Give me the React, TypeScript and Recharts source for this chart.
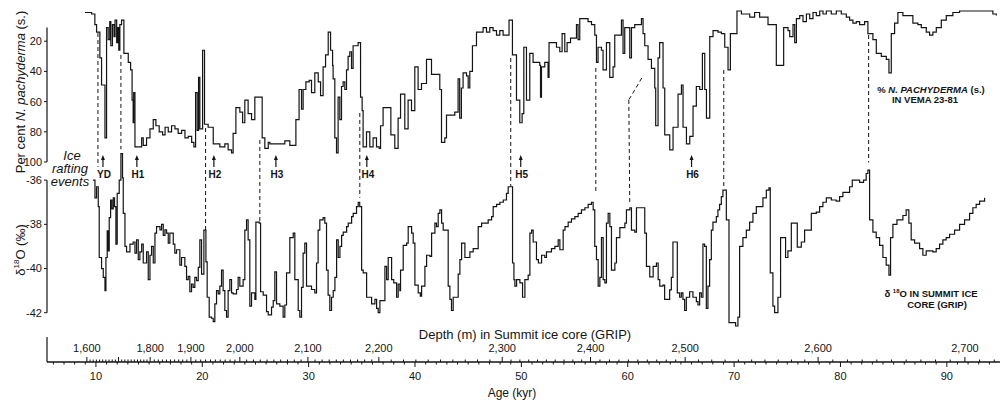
import { ComposedChart, Line, XAxis, YAxis, ReferenceLine, ReferenceDot } from "recharts"

// % N. pachyderma (s.) in VEMA 23-81: [age kyr, percent]
const pachyderma: [number, number][] = [
  [8.97, 1], [9.6, 2], [9.9, 9], [10.06, 14], [10.37, 31], [10.53, 49], [10.85, 84], [11.0, 11],
  [11.15, 19], [11.3, 7], [11.4, 23], [11.55, 9], [11.7, 17], [11.8, 6], [11.95, 21], [12.05, 11],
  [12.15, 26], [12.25, 9], [12.41, 6], [12.63, 28], [13.04, 34], [13.26, 39], [13.4, 59], [13.5, 74],
  [13.55, 54], [13.67, 90], [14.3, 84], [14.45, 89], [14.76, 84], [15.08, 78], [15.39, 72], [15.64, 76],
  [15.95, 80], [16.27, 82], [16.5, 77], [16.8, 80], [17.11, 76], [17.43, 78], [17.73, 81], [18.06, 79],
  [18.37, 84], [18.68, 83], [19.0, 87], [19.21, 90], [19.37, 54], [19.52, 79], [19.65, 44], [19.77, 78],
  [20.03, 26], [20.21, 75], [20.55, 77], [21.03, 88], [21.65, 90], [22.12, 88], [22.43, 92], [22.75, 94],
  [22.9, 81], [23.16, 64], [23.53, 67], [23.79, 74], [24.0, 59], [24.31, 68], [24.63, 72], [24.94, 57],
  [25.63, 84], [25.88, 91], [26.2, 87], [26.35, 88], [27.76, 86], [28.23, 89], [28.8, 72], [29.1, 52],
  [29.33, 65], [29.48, 52], [29.74, 47], [30.05, 46], [30.27, 54], [30.58, 41], [30.9, 47], [31.12, 56],
  [31.36, 37], [31.59, 29], [31.84, 14], [32.06, 26], [32.25, 36], [32.3, 45], [32.46, 84], [32.62, 94],
  [32.77, 57], [32.93, 72], [33.09, 50], [33.24, 47], [33.4, 52], [33.56, 39], [33.71, 30], [33.87, 27],
  [34.03, 38], [34.18, 23], [34.65, 21], [34.88, 57], [35.03, 66], [35.12, 90], [35.44, 80], [35.75, 90],
  [36.06, 84], [36.38, 90], [36.63, 91], [36.76, 76], [37.0, 64], [37.73, 82], [38.1, 91], [38.41, 71],
  [38.64, 55], [39.04, 78], [39.35, 59], [39.67, 66], [39.98, 37], [40.29, 52], [40.61, 48], [41.08, 32],
  [41.55, 42], [42.33, 52], [42.49, 87], [42.8, 84], [42.96, 69], [43.74, 67], [44.05, 45], [44.2, 71],
  [44.36, 51], [44.52, 41], [44.84, 43], [45.0, 51], [45.15, 40], [45.4, 23], [45.78, 14], [46.4, 11],
  [46.72, 14], [47.03, 11], [47.34, 13], [47.66, 16], [47.97, 13], [48.28, 16], [48.84, 6], [49.16, 29],
  [49.54, 59], [49.85, 74], [50.07, 68], [50.23, 24], [50.48, 59], [50.79, 28], [51.1, 34], [51.73, 36],
  [51.8, 57], [51.89, 37], [52.2, 34], [52.51, 44], [52.6, 21], [53.3, 24], [53.61, 27], [53.83, 15],
  [54.08, 27], [54.3, 21], [54.62, 18], [55.18, 9], [55.33, 19], [55.49, 5], [56.27, 7], [56.59, 9],
  [56.9, 16], [57.06, 34], [57.21, 24], [57.53, 26], [57.68, 39], [58.0, 21], [58.31, 44], [58.62, 37],
  [58.78, 16], [59.41, 6], [59.56, 28], [59.72, 11], [60.19, 31], [60.35, 11], [60.66, 9], [61.29, 5],
  [61.44, 15], [61.6, 23], [61.91, 32], [62.23, 38], [62.54, 51], [62.63, 76], [62.85, 31], [63.0, 21],
  [63.32, 51], [63.48, 82], [63.95, 92], [64.26, 77], [64.73, 55], [65.05, 49], [65.2, 77], [65.52, 88],
  [65.83, 83], [66.14, 63], [66.45, 50], [66.77, 52], [67.02, 28], [67.24, 52], [67.4, 71], [67.71, 17],
  [68.02, 13], [68.49, 14], [68.81, 15], [69.12, 24], [69.43, 39], [69.65, 15], [70.27, 0], [70.69, 2],
  [71.47, 4], [71.93, 1], [72.4, 4], [73.19, 9], [73.97, 36], [74.66, 11], [75.07, 13], [75.23, 17],
  [75.54, 9], [75.7, 21], [75.86, 5], [76.17, 3], [76.48, 7], [76.8, 2], [77.11, 5], [77.42, 1],
  [77.73, 3], [78.05, 0], [78.36, 2], [78.67, 0], [79.14, 2], [79.61, 0], [80.08, 2], [80.55, 4],
  [80.86, 6], [81.17, 8], [81.49, 7], [81.8, 9], [82.27, 7], [82.58, 15], [83.05, 19], [83.37, 28],
  [83.84, 30], [84.31, 32], [84.56, 41], [84.78, 15], [85.09, 8], [85.4, 1], [85.87, 3], [86.81, 8],
  [87.28, 9], [87.6, 11], [88.07, 14], [88.38, 16], [88.69, 14], [89.01, 11], [89.48, 6], [89.95, 3],
  [90.57, 1], [91.2, 0], [91.83, 0], [93.71, 0], [94.33, 2], [94.65, 3],
]

// delta 18O in Summit ice core (GRIP): [age kyr, permil]
const d18o: [number, number][] = [
  [9.72, -36.0], [9.91, -36.8], [10.06, -36.3], [10.22, -37.2], [10.31, -39.5], [10.53, -40.0],
  [10.69, -40.4], [10.85, -41.0], [10.94, -39.5], [11.06, -38.3], [11.16, -39.2], [11.25, -37.7],
  [11.38, -36.9], [11.5, -37.3], [11.63, -36.8], [11.75, -37.2], [11.88, -38.9], [12.0, -36.6],
  [12.19, -36.0], [12.35, -34.8], [12.5, -35.9], [12.57, -37.5], [12.73, -39.0], [12.88, -39.25],
  [13.2, -38.9], [13.5, -38.8], [13.67, -39.3], [13.82, -38.7], [13.98, -39.6], [14.13, -39.25],
  [14.3, -38.9], [14.45, -39.75], [14.76, -39.25], [14.92, -40.5], [15.08, -39.4], [15.23, -39.0],
  [15.39, -39.75], [15.55, -38.4], [15.7, -38.1], [16.02, -38.25], [16.17, -38.0], [16.33, -38.5],
  [16.49, -38.25], [16.64, -38.4], [16.8, -38.85], [16.95, -38.4], [17.27, -38.9], [17.42, -39.3],
  [17.58, -39.15], [17.89, -39.85], [18.05, -39.5], [18.36, -39.9], [18.52, -40.5], [18.68, -40.35],
  [18.83, -41.05], [18.99, -40.7], [19.14, -40.85], [19.3, -40.4], [19.46, -40.55], [19.62, -39.95],
  [19.77, -38.7], [19.93, -40.25], [20.15, -38.26], [20.34, -39.7], [20.46, -41.3], [20.65, -42.2],
  [20.87, -42.25], [21.03, -42.4], [21.18, -41.6], [21.34, -41.0], [21.5, -41.15], [21.65, -40.8],
  [21.81, -40.07], [21.96, -41.0], [22.12, -41.9], [22.28, -42.2], [22.43, -41.0], [22.59, -40.5],
  [22.75, -41.1], [22.9, -41.15], [23.22, -40.95], [23.37, -40.4], [23.53, -40.8], [23.84, -40.5],
  [24.0, -38.26], [24.16, -37.8], [24.31, -38.7], [24.47, -41.7], [24.63, -41.1], [24.94, -41.4],
  [25.04, -37.9], [25.35, -37.95], [25.48, -41.05], [25.73, -41.2], [26.04, -41.95], [26.2, -42.1],
  [26.51, -41.75], [26.67, -41.45], [26.82, -40.15], [26.98, -41.6], [27.29, -41.7], [27.6, -42.2],
  [27.76, -41.65], [27.92, -40.2], [28.23, -38.6], [28.55, -38.4], [28.7, -40.5], [29.02, -41.9],
  [29.17, -42.2], [29.33, -40.85], [29.48, -39.3], [29.64, -38.85], [29.8, -40.8], [30.27, -40.95],
  [30.58, -41.1], [30.74, -39.75], [30.89, -38.26], [31.05, -37.8], [31.36, -37.7], [31.52, -37.95],
  [31.68, -40.07], [31.83, -41.2], [31.99, -41.9], [32.15, -41.3], [32.31, -41.0], [32.47, -40.4],
  [32.63, -38.7], [32.78, -39.5], [32.94, -39.0], [33.1, -38.5], [33.25, -38.35], [33.57, -38.1],
  [33.72, -37.95], [34.04, -37.65], [34.19, -37.5], [34.5, -37.2], [34.66, -37.0], [34.8, -37.2],
  [34.98, -40.07], [35.13, -40.2], [35.45, -41.3], [35.92, -41.6], [36.23, -41.4], [36.39, -41.8],
  [36.54, -42.0], [36.7, -41.45], [37.17, -39.9], [37.33, -40.5], [37.48, -39.5], [37.8, -40.5],
  [38.0, -40.65], [38.27, -41.3], [38.42, -40.7], [38.58, -41.0], [38.64, -40.07], [38.89, -38.95],
  [39.21, -38.85], [39.36, -38.1], [39.68, -38.4], [39.83, -38.85], [39.99, -40.75], [40.3, -41.1],
  [40.5, -41.25], [40.62, -40.8], [40.93, -39.9], [41.09, -39.4], [41.4, -39.45], [41.56, -38.4],
  [41.87, -37.95], [42.02, -38.1], [42.18, -37.5], [42.34, -37.35], [42.5, -37.95], [42.65, -38.26],
  [43.12, -40.8], [43.28, -41.4], [43.43, -41.9], [43.59, -41.3], [44.06, -40.25], [44.22, -39.6],
  [44.38, -38.85], [44.69, -39.5], [45.16, -39.25], [45.47, -39.1], [45.94, -38.1], [46.26, -37.95],
  [46.88, -37.8], [47.2, -37.65], [47.35, -37.2], [47.67, -37.1], [47.98, -37.0], [48.3, -36.9],
  [48.6, -36.6], [48.76, -36.3], [49.17, -39.75], [49.3, -40.5], [49.39, -40.8], [49.55, -40.5],
  [49.86, -40.65], [50.11, -41.3], [50.33, -40.5], [50.64, -40.3], [50.8, -38.4], [50.96, -38.26],
  [51.11, -38.8], [51.42, -39.6], [51.6, -39.75], [51.9, -39.4], [52.2, -39.5], [52.36, -39.25],
  [52.83, -39.1], [53.15, -39.0], [53.46, -38.7], [53.62, -39.15], [53.93, -38.26], [54.1, -38.1],
  [54.4, -37.9], [54.71, -37.75], [55.03, -37.65], [55.34, -37.5], [55.65, -37.35], [55.97, -37.25],
  [56.28, -37.1], [56.59, -37.0], [56.75, -37.35], [56.9, -39.0], [57.06, -39.6], [57.22, -40.8],
  [57.38, -40.4], [57.53, -38.6], [57.69, -40.5], [57.85, -40.65], [58.0, -37.95], [58.16, -37.5],
  [58.32, -38.1], [58.47, -40.07], [58.79, -39.75], [58.94, -38.6], [59.26, -38.15], [59.73, -37.95],
  [59.88, -37.35], [60.2, -37.25], [60.35, -38.26], [60.66, -38.35], [60.82, -37.25], [61.45, -37.25],
  [61.6, -38.4], [61.76, -39.9], [62.07, -40.38], [62.39, -39.9], [62.7, -39.75], [62.86, -40.5],
  [63.01, -40.8], [63.31, -40.75], [63.47, -41.4], [63.94, -40.97], [64.1, -40.4], [64.25, -38.8],
  [64.66, -41.1], [64.88, -41.3], [65.04, -41.1], [65.19, -41.4], [65.35, -41.9], [65.51, -41.3],
  [65.82, -41.05], [66.13, -41.3], [66.45, -41.5], [66.6, -41.65], [66.76, -41.1], [66.92, -41.3],
  [67.07, -38.9], [67.23, -39.0], [67.39, -41.8], [67.54, -40.8], [67.7, -39.6], [67.86, -38.26],
  [68.01, -37.9], [68.33, -37.65], [68.48, -37.35], [68.64, -37.1], [68.8, -36.75], [68.95, -36.45],
  [69.27, -37.8], [69.52, -42.45], [70.14, -42.6], [70.36, -42.2], [70.52, -39.0], [70.83, -38.6],
  [71.15, -38.26], [71.46, -37.9], [71.77, -37.5], [72.09, -37.2], [72.71, -36.8], [73.03, -36.45],
  [73.28, -36.35], [73.4, -40.2], [73.65, -41.7], [73.81, -42.0], [74.12, -41.3], [74.37, -38.6],
  [74.84, -39.5], [75.06, -39.2], [75.38, -37.95], [75.94, -39.03], [76.32, -38.8], [76.63, -38.26],
  [77.26, -37.5], [77.73, -37.45], [78.04, -37.2], [78.35, -37.0], [78.67, -36.8], [79.14, -36.9],
  [79.6, -36.95], [79.92, -36.75], [80.23, -36.55], [80.86, -36.3], [81.11, -36.0], [81.8, -36.1],
  [82.17, -36.0], [82.42, -35.7], [82.58, -35.55], [82.74, -37.8], [83.05, -38.35], [83.36, -38.6],
  [83.68, -38.95], [83.99, -39.5], [84.3, -39.85], [84.56, -40.3], [84.71, -38.6], [84.93, -38.0],
  [85.31, -37.8], [85.87, -37.6], [86.18, -37.35], [86.43, -37.95], [86.65, -38.7], [86.97, -38.85],
  [87.44, -39.1], [87.75, -39.4], [88.06, -39.2], [88.69, -39.25], [89.0, -39.1], [89.32, -38.9],
  [89.63, -38.7], [89.94, -38.6], [90.26, -38.45], [90.73, -38.26], [91.2, -38.0], [91.67, -37.8],
  [92.14, -37.5], [92.45, -37.25], [92.76, -37.1], [93.08, -36.95], [93.55, -36.8],
]

// ice rafting events
const events = [
  { name: "YD", age: 10.66 },
  { name: "H1", age: 13.85 },
  { name: "H2", age: 21.09 },
  { name: "H3", age: 26.92 },
  { name: "H4", age: 35.47 },
  { name: "H5", age: 49.94 },
  { name: "H6", age: 66.0 },
]

// dashed links between the two records
type LinkPt = { age: number; pct?: number; d18o?: number }
const links: LinkPt[][] = [
  [{ age: 10.19, pct: 14.6 }, { age: 10.19, d18o: -35.4 }],
  [{ age: 12.35, pct: 29.1 }, { age: 12.35, d18o: -34.6 }],
  [{ age: 20.31, pct: 77.5 }, { age: 20.31, d18o: -38.26 }],
  [{ age: 25.41, pct: 85.4 }, { age: 25.41, d18o: -37.95 }],
  [{ age: 34.81, pct: 67.5 }, { age: 34.81, d18o: -36.8 }],
  [{ age: 49.0, pct: 31.1 }, { age: 49.0, d18o: -36.3 }],
  [{ age: 57.0, pct: 37.7 }, { age: 57.0, d18o: -36.6 }],
  [{ age: 61.32, pct: 44.4 }, { age: 60.1, pct: 58.9 }, { age: 60.19, d18o: -37.04 }],
  [{ age: 69.03, pct: 39.1 }, { age: 69.03, d18o: -36.35 }],
  [{ age: 82.65, pct: 15.9 }, { age: 82.65, d18o: -35.2 }],
]

const pctTicks = [20, 40, 60, 80, 100]
const d18oTicks = [-36, -38, -40, -42]
const ageLabels = [10, 20, 30, 40, 50, 60, 70, 80, 90]
const depthLabels = [1600, 1800, 1900, 2000, 2100, 2200, 2300, 2400, 2500, 2600, 2700]
const depthLabelAges = [9.15, 15.1, 18.93, 23.53, 29.93, 36.6, 48.2, 56.5, 65.4, 77.9, 91.7]

const W = 1003
const H = 402
const TOP = 6
const BOTTOM = 362
const AGE_DOMAIN: [number, number] = [5.4, 95]
const PCT_DOMAIN: [number, number] = [-3.31, 232.45]
const D18O_DOMAIN: [number, number] = [-44.23, -28.12]
const INK = "#141414"
const FONT = '"Liberation Sans", Arial, Helvetica, sans-serif'

const pachyData = pachyderma.map(([age, pct]) => ({ age, pct }))
const d18oData = d18o.map(([age, v]) => ({ age, v }))

// map a d18O value onto the percent axis (both share the same plot height)
const d18oToPct = (v: number) => {
  const frac = (D18O_DOMAIN[1] - v) / (D18O_DOMAIN[1] - D18O_DOMAIN[0])
  return PCT_DOMAIN[0] + frac * (PCT_DOMAIN[1] - PCT_DOMAIN[0])
}
const linkY = (p: LinkPt) => (p.pct !== undefined ? p.pct : d18oToPct(p.d18o as number))

// depth scale, piecewise linear between labelled depths
const depthToAge = (d: number) => {
  for (let i = 0; i < depthLabels.length - 1; i++) {
    if (d <= depthLabels[i + 1]) {
      const t = (d - depthLabels[i]) / (depthLabels[i + 1] - depthLabels[i])
      return depthLabelAges[i] + t * (depthLabelAges[i + 1] - depthLabelAges[i])
    }
  }
  const n = depthLabels.length - 1
  const slope = (depthLabelAges[n] - depthLabelAges[n - 1]) / (depthLabels[n] - depthLabels[n - 1])
  return depthLabelAges[n] + (d - depthLabels[n]) * slope
}
const depthTicks: { depth: number; age: number }[] = []
for (let d = 1600; d <= 2720; d += 10) depthTicks.push({ depth: d, age: +depthToAge(d).toFixed(4) + 0.0001 })

const ageTicks: number[] = []
for (let a = 6; a <= 94; a++) ageTicks.push(a)

const allTicks = [...ageTicks, ...depthTicks.map((d) => d.age)].sort((a, b) => a - b)

// one axis carries both scales: whole numbers are age ticks, the rest depth ticks
const renderAxisTick = (props: any) => {
  const x = props.x
  const v = props.payload.value
  if (Number.isInteger(v)) {
    const major = ageLabels.includes(v)
    return (
      <g key={`a${v}`}>
        <path d={`M${x},${BOTTOM} L${x},${BOTTOM + (major ? 5 : 2.5)}`} stroke={INK} strokeWidth={1} fill="none" />
        {major && (
          <text x={x} y={BOTTOM + 18} textAnchor="middle" fontSize={11} fontFamily={FONT} fill={INK}>
            {v}
          </text>
        )}
      </g>
    )
  }
  const t = depthTicks.find((d) => Math.abs(d.age - v) < 1e-6)
  if (!t) return <g />
  const major = t.depth % 100 === 0
  const labelled = depthLabels.includes(t.depth)
  return (
    <g key={`d${t.depth}`}>
      <path d={`M${x},${BOTTOM} L${x},${BOTTOM - (major ? 5 : 2.5)}`} stroke={INK} strokeWidth={1} fill="none" />
      {labelled && (
        <text x={x} y={BOTTOM - 10} textAnchor="middle" fontSize={11} fontFamily={FONT} fill={INK}>
          {t.depth.toLocaleString("en-US")}
        </text>
      )}
    </g>
  )
}

const EventMark = ({ cx, cy, name }: any) => (
  <g>
    <line x1={cx} x2={cx} y1={cy - 4} y2={cy + 5} stroke={INK} strokeWidth={1.2} />
    <path d={`M${cx - 2},${cy - 2} L${cx},${cy - 7} L${cx + 2},${cy - 2} Z`} fill={INK} />
    <text x={cx + 1} y={cy + 16} textAnchor="middle" fontSize={10} fontWeight="bold" fontFamily={FONT} fill={INK}>
      {name}
    </text>
  </g>
)

const Txt = ({ x, y, size = 13, rotate = false, style, children }: any) => (
  <div
    style={{
      position: "absolute",
      left: x,
      top: y,
      transform: `translate(-50%, -50%)${rotate ? " rotate(-90deg)" : ""}`,
      fontFamily: FONT,
      fontSize: size,
      lineHeight: 1,
      whiteSpace: "nowrap",
      color: INK,
      ...style,
    }}
  >
    {children}
  </div>
)

const layer: React.CSSProperties = { position: "absolute", left: 0, top: 0 }

export default function App() {
  return (
    <div style={{ position: "absolute", left: 0, top: 0, width: W, height: H, background: "#fff" }}>
      {/* upper record: N. pachyderma */}
      <div style={layer}>
        <ComposedChart width={W} height={H} margin={{ top: TOP, right: 3, bottom: H - BOTTOM, left: 7 }}>
          <XAxis xAxisId="age" dataKey="age" type="number" domain={AGE_DOMAIN} allowDataOverflow hide />
          <YAxis
            yAxisId="pct"
            type="number"
            domain={PCT_DOMAIN}
            allowDataOverflow
            reversed
            width={40}
            ticks={pctTicks}
            interval={0}
            axisLine={false}
            tickSize={3}
            tickMargin={2}
            tickLine={{ stroke: INK }}
            tick={{ fontSize: 11, fontFamily: FONT, fill: INK }}
          />
          <ReferenceLine
            xAxisId="age"
            yAxisId="pct"
            segment={[{ x: AGE_DOMAIN[0], y: 11 }, { x: AGE_DOMAIN[0], y: 100 }]}
            stroke={INK}
            strokeWidth={1.2}
            ifOverflow="visible"
          />
          {links.map((pts, i) =>
            pts.slice(1).map((p, j) => (
              <ReferenceLine
                key={`l${i}-${j}`}
                xAxisId="age"
                yAxisId="pct"
                segment={[{ x: pts[j].age, y: linkY(pts[j]) }, { x: p.age, y: linkY(p) }]}
                stroke={INK}
                strokeWidth={1}
                strokeDasharray="4 3"
                ifOverflow="visible"
              />
            ))
          )}
          {events.map((e) => (
            <ReferenceDot
              key={e.name}
              xAxisId="age"
              yAxisId="pct"
              x={e.age}
              y={100}
              ifOverflow="visible"
              shape={(p: any) => <EventMark cx={p.cx} cy={p.cy} name={e.name} />}
            />
          ))}
          <Line
            xAxisId="age"
            yAxisId="pct"
            data={pachyData}
            dataKey="pct"
            type="stepAfter"
            stroke={INK}
            strokeWidth={1.2}
            dot={false}
            isAnimationActive={false}
          />
        </ComposedChart>
      </div>

      {/* lower record: d18O, with the age / depth axis */}
      <div style={layer}>
        <ComposedChart width={W} height={H} margin={{ top: TOP, right: 3, bottom: 10, left: 7 }}>
          <XAxis
            xAxisId="age"
            dataKey="age"
            type="number"
            domain={AGE_DOMAIN}
            allowDataOverflow
            height={30}
            ticks={allTicks}
            interval={0}
            tickLine={false}
            axisLine={{ stroke: INK, strokeWidth: 1.3 }}
            tick={renderAxisTick}
          />
          <YAxis
            yAxisId="d18o"
            type="number"
            domain={D18O_DOMAIN}
            allowDataOverflow
            width={40}
            ticks={d18oTicks}
            interval={0}
            axisLine={false}
            tickSize={3}
            tickMargin={2}
            tickLine={{ stroke: INK }}
            tick={{ fontSize: 11, fontFamily: FONT, fill: INK }}
          />
          <ReferenceLine
            xAxisId="age"
            yAxisId="d18o"
            segment={[{ x: AGE_DOMAIN[0], y: -36 }, { x: AGE_DOMAIN[0], y: -42 }]}
            stroke={INK}
            strokeWidth={1.2}
            ifOverflow="visible"
          />
          <ReferenceLine
            xAxisId="age"
            yAxisId="d18o"
            segment={[{ x: AGE_DOMAIN[0], y: -43.1 }, { x: AGE_DOMAIN[0], y: D18O_DOMAIN[0] }]}
            stroke={INK}
            strokeWidth={1.2}
            ifOverflow="visible"
          />
          <Line
            xAxisId="age"
            yAxisId="d18o"
            data={d18oData}
            dataKey="v"
            type="stepAfter"
            stroke={INK}
            strokeWidth={1.2}
            dot={false}
            isAnimationActive={false}
          />
        </ComposedChart>
      </div>

      {/* text */}
      <Txt x={20} y={92} rotate>
        Per cent <i>N. pachyderma</i> (s.)
      </Txt>
      <Txt x={20} y={250} rotate>
        δ<sup style={{ fontSize: 8 }}>18</sup>O (‰)
      </Txt>
      <Txt x={72} y={155} style={{ fontStyle: "italic" }}>Ice</Txt>
      <Txt x={70} y={168} style={{ fontStyle: "italic" }}>rafting</Txt>
      <Txt x={70} y={181} style={{ fontStyle: "italic" }}>events</Txt>
      <Txt x={931} y={90} size={9.5} style={{ fontWeight: "bold" }}>
        % <i>N. PACHYDERMA</i> (s.)
      </Txt>
      <Txt x={925} y={100} size={9.5} style={{ fontWeight: "bold" }}>
        IN VEMA 23-81
      </Txt>
      <Txt x={931} y={293} size={9.5} style={{ fontWeight: "bold" }}>
        δ <sup style={{ fontSize: 6 }}>18</sup>O IN SUMMIT ICE
      </Txt>
      <Txt x={937} y={305} size={9.5} style={{ fontWeight: "bold" }}>
        CORE (GRIP)
      </Txt>
      <Txt x={525} y={334}>Depth (m) in Summit ice core (GRIP)</Txt>
      <Txt x={512} y={393} size={12}>Age (kyr)</Txt>
    </div>
  )
}
